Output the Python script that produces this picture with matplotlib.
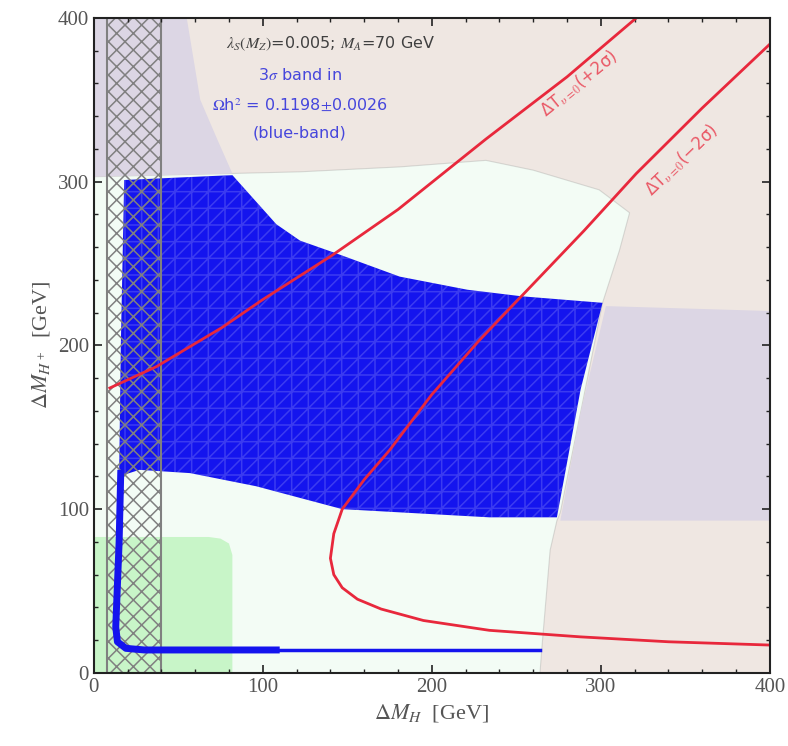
import matplotlib
matplotlib.use("Agg")
import matplotlib.pyplot as plt
from matplotlib.patches import Polygon, Rectangle
from matplotlib.ticker import MultipleLocator

plt.rcParams['mathtext.fontset'] = 'stix'
plt.rcParams['hatch.linewidth'] = 1.1

# region boundaries (Delta M_H, Delta M_H+) in GeV
allowed_x = [0, 264, 265, 270, 274, 276, 288, 301, 311, 317, 299, 260, 232, 181, 122, 82, 0]
allowed_y = [0, 0, 14, 75, 93, 98, 159, 226, 258, 281, 295, 307, 313, 309, 306, 305, 303]

lav_left_x = [0, 82, 73, 63, 55, 0]
lav_left_y = [303, 305, 326, 350, 400, 400]

lav_right_x = [276, 400, 400, 303, 288]
lav_right_y = [93, 93, 221, 224, 159]

green_x = [0, 82, 82, 80, 75, 68, 0]
green_y = [0, 0, 72, 79, 82, 83, 83]

band_x = [18, 82, 108, 122, 144, 181, 221, 253, 301, 288, 274, 234, 147, 96, 57, 27, 15, 16]
band_y = [301, 304, 274, 264, 256, 242, 234, 230, 226, 173, 95, 95, 100, 114, 122, 124, 120, 200]

strip_x = [16, 15, 13, 14, 19, 30, 110]
strip_y = [124, 80, 28, 19, 15, 14, 14]
line_x = [110, 264]
line_y = [14, 14]

hatch_x0, hatch_x1 = 8, 40

# Delta T curves
tp_x = [9.5, 37, 76, 100, 141, 180, 232, 280, 321]
tp_y = [174, 187, 211, 228, 255, 283, 326, 364, 400]
tm_x = [400, 360, 321, 290, 253, 228, 200, 175, 160, 147, 142, 140, 142, 147, 156, 170, 195, 234, 288, 340, 400]
tm_y = [384, 345, 305, 270, 230, 203, 170, 136, 118, 100, 85, 70, 60, 52, 45, 39, 32, 26, 22, 19, 17]

beige = '#efe7e2'
mint = '#f3fcf5'
lavender = '#dcd6e4'
green = '#c8f5c8'
blue = '#1414ee'
red = '#e8283c'

fig = plt.figure(figsize=(7.88, 7.46), dpi=100)
ax = fig.add_axes([0.119, 0.098, 0.858, 0.878])
ax.set_facecolor(beige)

ax.add_patch(Polygon(list(zip(allowed_x, allowed_y)), closed=True, fc=mint,
                     ec=(0.5, 0.5, 0.5, 0.25), lw=0.8))
ax.add_patch(Polygon(list(zip(lav_left_x, lav_left_y)), closed=True, fc=lavender, ec='none'))
ax.add_patch(Polygon(list(zip(lav_right_x, lav_right_y)), closed=True, fc=lavender, ec='none'))
ax.add_patch(Polygon(list(zip(green_x, green_y)), closed=True, fc=green, ec='none'))

band = list(zip(band_x, band_y))
ax.add_patch(Polygon(band, closed=True, fc=blue, ec='none'))
# faint mesh on the band
ax.add_patch(Polygon(band, closed=True, fc='none', ec=(1, 1, 1, 0.17), lw=0, hatch='+//'))

ax.plot(strip_x, strip_y, color=blue, lw=5, solid_capstyle='butt')
ax.plot(line_x, line_y, color=blue, lw=2.5)

ax.add_patch(Rectangle((hatch_x0, 0), hatch_x1 - hatch_x0, 400, fc='none',
                       ec='#808080', lw=1.5, hatch='xx'))

ax.plot(tp_x, tp_y, color=red, lw=2)
ax.plot(tm_x, tm_y, color=red, lw=2)

ax.text(140, 384, r'$\lambda_S(M_Z)$=0.005; $M_A$=70 GeV', ha='center', va='center',
        fontsize=11.5, color='#404040')
ax.text(122, 365, r'3$\sigma$ band in', ha='center', va='center', fontsize=11.5, color='#4646dc')
ax.text(122, 347, r'$\Omega$h$^2$ = 0.1198$\pm$0.0026', ha='center', va='center',
        fontsize=11.5, color='#4646dc')
ax.text(122, 330, '(blue-band)', ha='center', va='center', fontsize=11.5, color='#4646dc')

ax.text(287, 360, 'ΔT$_{υ=0}$(+2σ)', rotation=39, ha='center', va='center',
        fontsize=12, color=red, alpha=0.75)
ax.text(348, 313, 'ΔT$_{υ=0}$(−2σ)', rotation=44, ha='center', va='center',
        fontsize=12, color=red, alpha=0.75)

ax.set_xlim(0, 400)
ax.set_ylim(0, 400)
ax.xaxis.set_major_locator(MultipleLocator(100))
ax.yaxis.set_major_locator(MultipleLocator(100))
ax.xaxis.set_minor_locator(MultipleLocator(20))
ax.yaxis.set_minor_locator(MultipleLocator(20))
ax.tick_params(which='both', direction='in', top=True, right=True, color='#222222')
ax.tick_params(which='major', length=6, width=1.2)
ax.tick_params(which='minor', length=3, width=1)
for lab in ax.get_xticklabels() + ax.get_yticklabels():
    lab.set_fontfamily('Liberation Serif')
    lab.set_fontsize(15)
    lab.set_color('#555555')
for s in ax.spines.values():
    s.set_linewidth(1.5)
    s.set_color('#222222')

ax.set_xlabel(r'$\Delta M_H$  [GeV]', fontsize=16, family='Liberation Serif', color='#555555')
ax.set_ylabel(r'$\Delta M_{H^+}$  [GeV]', fontsize=16, family='Liberation Serif', color='#555555')

fig.savefig('out.png', dpi=100)
